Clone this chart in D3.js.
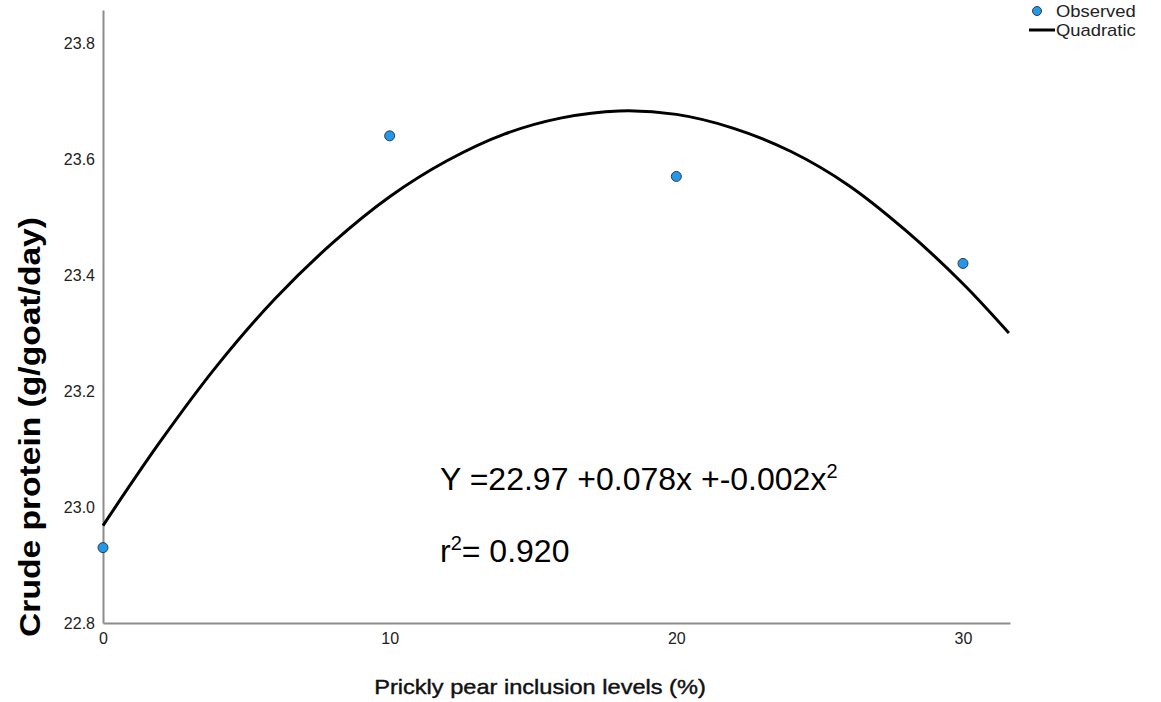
<!DOCTYPE html>
<meta charset="utf-8">
<head>
  <style>
  body { margin: 0; background: #fff; }
  svg text { font-family: "Liberation Sans", Arial, sans-serif; }
  .axis path { stroke: #8c8c8c; stroke-width: 2px; }
  .axis line { display: none; }
  .axis text { fill: #222; font-size: 16px; }
  </style>
</head>
<body>
<svg width="1161" height="702"></svg>
<script src="https://d3js.org/d3.v7.min.js"></script>
<script>

// observed points
var levels = [0, 10, 20, 30];
var observed = [22.93, 23.64, 23.57, 23.42];

// quadratic fit line
var fitX = [0, 2, 4, 6, 8, 10, 12, 14, 16, 18, 20, 22, 24, 26, 28, 30, 31.6];
var fitY = [22.968, 23.113, 23.245, 23.359, 23.455, 23.535, 23.597, 23.643, 23.671,
            23.683, 23.677, 23.653, 23.613, 23.555, 23.477, 23.385, 23.30];

var xTicks = [0, 10, 20, 30];
var yTicks = [22.8, 23.0, 23.2, 23.4, 23.6, 23.8];

var svg = d3.select("svg"),
    width = +svg.attr("width"),
    height = +svg.attr("height");

var x = d3.scaleLinear().domain([0, 31.64]).range([103, 1010]);
var y = d3.scaleLinear().domain([22.8, 23.857]).range([623, 10]);

// axes, no tick marks
svg.append("g")
    .attr("class", "axis")
    .attr("transform", "translate(0," + y(22.8) + ")")
    .call(d3.axisBottom(x).tickValues(xTicks).tickSize(0).tickPadding(10).tickSizeOuter(0));

svg.append("g")
    .attr("class", "axis")
    .attr("transform", "translate(" + x(0) + ",0)")
    .call(d3.axisLeft(y).tickValues(yTicks).tickFormat(d3.format(".1f")).tickSize(0).tickPadding(8).tickSizeOuter(0));

// fitted curve
var line = d3.line()
    .x(function(d) { return x(d[0]); })
    .y(function(d) { return y(d[1]); })
    .curve(d3.curveCatmullRom);

svg.append("path")
    .datum(d3.zip(fitX, fitY))
    .attr("d", line)
    .attr("fill", "none")
    .attr("stroke", "#000")
    .attr("stroke-width", 3);

// observed dots
svg.selectAll(".dot")
    .data(d3.zip(levels, observed))
    .enter().append("circle")
    .attr("class", "dot")
    .attr("cx", function(d) { return x(d[0]); })
    .attr("cy", function(d) { return y(d[1]); })
    .attr("r", 5)
    .attr("fill", "#1f98ee")
    .attr("stroke", "#3a3a3a")
    .attr("stroke-width", 1);

// equation text
var eq = svg.append("text")
    .attr("x", 440)
    .attr("y", 490)
    .attr("font-size", 32)
    .attr("fill", "#000");
eq.append("tspan").text("Y =22.97 +0.078x +-0.002x");
eq.append("tspan").attr("font-size", 20).attr("dy", -12).text("2");

var r2 = svg.append("text")
    .attr("x", 440)
    .attr("y", 562)
    .attr("font-size", 32)
    .attr("fill", "#000");
r2.append("tspan").text("r");
r2.append("tspan").attr("font-size", 20).attr("dy", -12).text("2");
r2.append("tspan").attr("dy", 12).text("= 0.920");

// axis titles
svg.append("text")
    .attr("transform", "translate(540,694) scale(1.18,1)")
    .attr("text-anchor", "middle")
    .attr("font-size", 20)
    .attr("fill", "#111")
    .style("paint-order", "stroke")
    .attr("stroke", "#111")
    .attr("stroke-width", 0.4)
    .text("Prickly pear inclusion levels (%)");

svg.append("text")
    .attr("transform", "translate(40,427) rotate(-90) scale(1.12,1)")
    .attr("text-anchor", "middle")
    .attr("font-size", 30)
    .attr("font-weight", "bold")
    .attr("fill", "#000")
    .text("Crude protein (g/goat/day)");

// legend
var legend = svg.append("g").attr("transform", "translate(1037,0)");
legend.append("circle")
    .attr("cx", 0).attr("cy", 11).attr("r", 4.5)
    .attr("fill", "#1f98ee").attr("stroke", "#3a3a3a").attr("stroke-width", 1);
legend.append("line")
    .attr("x1", -8).attr("x2", 18).attr("y1", 30).attr("y2", 30)
    .attr("stroke", "#000").attr("stroke-width", 3);
legend.append("text")
    .attr("transform", "translate(19,17) scale(1.15,1)")
    .attr("font-size", 16).attr("fill", "#222")
    .text("Observed");
legend.append("text")
    .attr("transform", "translate(19,36) scale(1.15,1)")
    .attr("font-size", 16).attr("fill", "#222")
    .text("Quadratic");

</script>
</body>
